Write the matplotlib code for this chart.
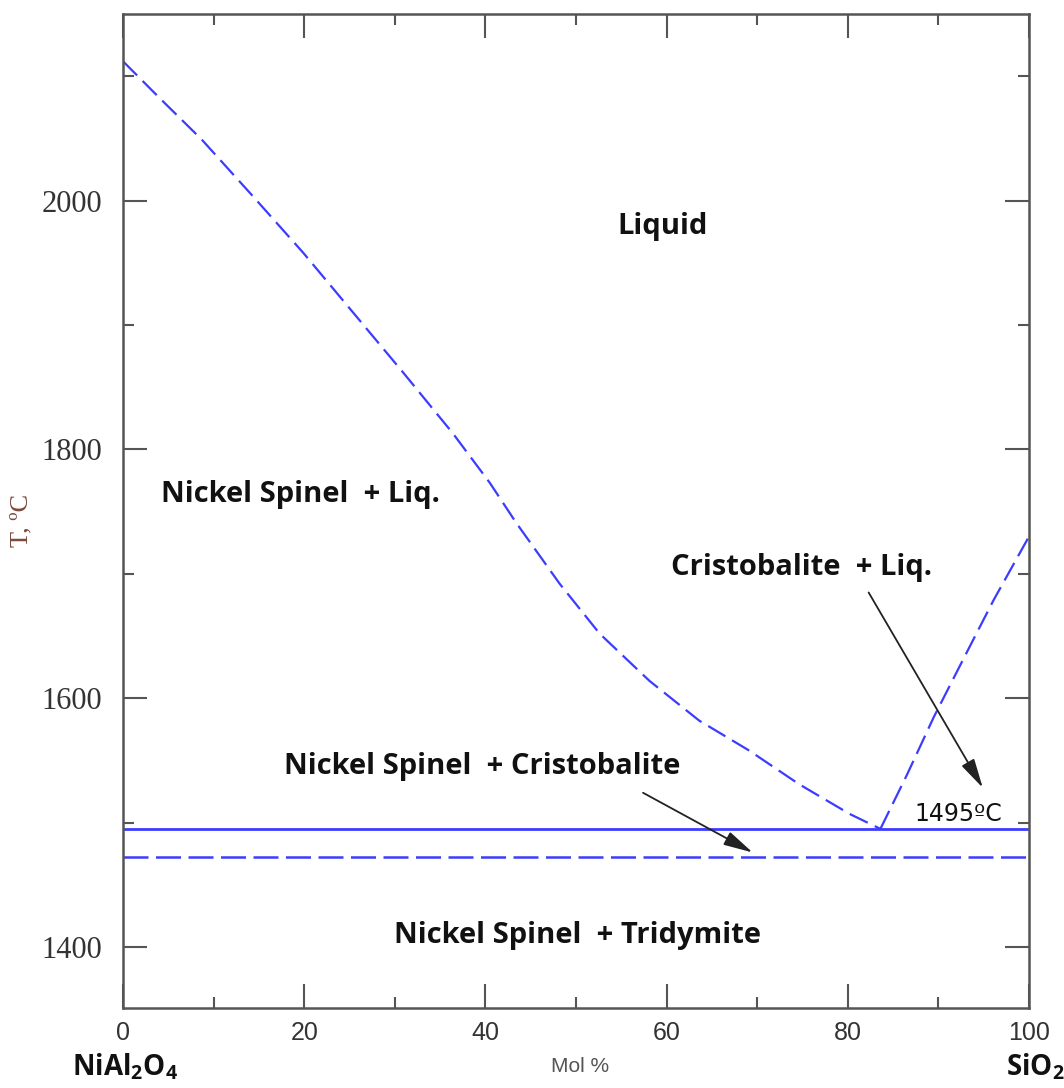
'''
NiAl2O4 - SiO2 phase diagram (redrawn)
'''
import matplotlib
matplotlib.use("Agg")
import matplotlib.pyplot as plt
from matplotlib.ticker import MultipleLocator

# liquidus, NiAl2O4 side (mol % SiO2, deg C)
liq_left_x = [0, 4.1, 8.7, 14.4, 19.9, 25.4, 30.9, 36.4, 40.5, 43.4, 48.2,
              52.6, 58.1, 63.6, 69.1, 74.6, 80.2, 83.6]
liq_left_t = [2112, 2082, 2049, 2003, 1958, 1910, 1862, 1813, 1773, 1741, 1692,
              1652, 1614, 1582, 1558, 1531, 1507, 1495]
# liquidus, SiO2 side
liq_right_x = [83.6, 86.5, 89.5, 93.0, 96.1, 100]
liq_right_t = [1495, 1538, 1585, 1635, 1679, 1730]

eutectic_t = 1495
cristo_trid_t = 1472

region_labels = ["Liquid", "Nickel Spinel  + Liq.", "Cristobalite  + Liq.",
                 "Nickel Spinel  + Cristobalite", "Nickel Spinel  + Tridymite"]
region_x = [59.6, 19.6, 74.9, 39.6, 50.2]
region_t = [1979, 1764, 1705, 1545, 1409]

# arrows: (start x, start t, end x, end t)
arrows = [(82.3, 1685, 94.9, 1528),
          (57.4, 1524, 69.5, 1476)]

BLUE = "#3c3cff"
LABEL_FONT = "Open Sans"


def main():
    fig = plt.figure(figsize=(10.64, 10.88), dpi=100)
    ax = fig.add_axes([123 / 1064, 1 - 1008 / 1088, (1029 - 123) / 1064, (1008 - 14) / 1088])

    # phase boundaries
    ax.plot(liq_left_x, liq_left_t, color=BLUE, lw=1.6, dashes=(9, 3.5))
    ax.plot(liq_right_x, liq_right_t, color=BLUE, lw=1.6, dashes=(9, 3.5))
    ax.axhline(eutectic_t, color=BLUE, lw=2.0)
    ax.axhline(cristo_trid_t, color=BLUE, lw=1.8, dashes=(10, 3))

    for lab, x, t in zip(region_labels, region_x, region_t):
        ax.text(x, t, lab, ha="center", va="center", fontsize=21,
                fontweight="bold", family=LABEL_FONT, color="#111111")
    ax.text(92.2, 1507, "1495\u00baC", ha="center", va="center", fontsize=17,
            family="DejaVu Sans", color="#111111")

    for x0, t0, x1, t1 in arrows:
        ax.annotate("", xy=(x1, t1), xytext=(x0, t0),
                    arrowprops=dict(arrowstyle="-|>,head_length=0.9,head_width=0.22",
                                    color="#222222", lw=1.3,
                                    mutation_scale=20, shrinkA=0, shrinkB=0))

    ax.set_xlim(0, 100)
    ax.set_ylim(1351, 2150)
    ax.xaxis.set_major_locator(MultipleLocator(20))
    ax.xaxis.set_minor_locator(MultipleLocator(10))
    ax.yaxis.set_major_locator(MultipleLocator(200))
    ax.yaxis.set_minor_locator(MultipleLocator(100))
    ax.tick_params(which="both", direction="in", top=True, right=True,
                   color="#555555", width=1.5)
    ax.tick_params(which="major", length=17)
    ax.tick_params(which="minor", length=8)
    ax.tick_params(axis="x", pad=9, labelsize=18, labelcolor="#333333")
    ax.tick_params(axis="y", pad=15, labelsize=22, labelcolor="#333333")
    for lab in ax.get_xticklabels():
        lab.set_family("Liberation Sans")
    for lab in ax.get_yticklabels():
        lab.set_family("Liberation Serif")
    for sp in ax.spines.values():
        sp.set_color("#555555")
        sp.set_linewidth(1.8)

    # axis titles and end members
    fig.text(580 / 1064, 1 - 1066 / 1088, "Mol %", ha="center", va="center",
             fontsize=15, family="Liberation Sans", color="#555555")
    fig.text(21 / 1064, 1 - 520 / 1088, "T, \u00baC", ha="center", va="center",
             rotation=90, fontsize=19, family="Liberation Serif", color="#7a4a3a")
    fig.text(125 / 1064, 1 - 1067 / 1088, r"NiAl$_2$O$_4$", ha="center", va="center",
             fontsize=20, fontweight="bold", family=LABEL_FONT, color="#111111")
    fig.text(1035 / 1064, 1 - 1067 / 1088, r"SiO$_2$", ha="center", va="center",
             fontsize=20, fontweight="bold", family=LABEL_FONT, color="#111111")

    fig.savefig("out.png", dpi=100, facecolor="white")


if __name__ == "__main__":
    plt.rcParams["mathtext.default"] = "regular"
    main()
